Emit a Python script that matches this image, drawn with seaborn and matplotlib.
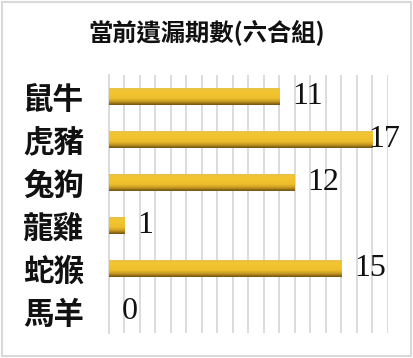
import numpy as np
import pandas as pd
import matplotlib
matplotlib.use("Agg")
import matplotlib.pyplot as plt
from matplotlib.colors import LinearSegmentedColormap
from matplotlib.patches import Rectangle
import seaborn as sns

# Data
categories = ["鼠牛", "虎豬", "兔狗", "龍雞", "蛇猴", "馬羊"]
values = [11, 17, 12, 1, 15, 0]
title_text = "當前遺漏期數(六合組)"

sns.set_theme(style="white")
plt.rcParams["font.family"] = ["Noto Sans CJK TC", "DejaVu Sans"]

W, H = 413, 358
fig = plt.figure(figsize=(W / 100, H / 100), dpi=100)
fig.patch.set_facecolor("white")

ax = fig.add_axes([109 / W, (H - 333) / H, (388 - 109) / W, (333 - 75) / H])
df = pd.DataFrame({"cat": categories, "val": values})
sns.barplot(data=df, x="val", y="cat", orient="h", color="#f0c030",
            width=0.38, ax=ax, saturation=1)

ax.set_xlim(0, 18)
ax.set_xticks(np.arange(0, 19, 1))
ax.set_xticklabels([])
ax.tick_params(axis="x", length=0)
ax.tick_params(axis="y", length=0, pad=18)
ax.xaxis.grid(True, color="#d9d9d9", linewidth=1.3)
ax.yaxis.grid(False)
ax.set_axisbelow(True)
for s in ["top", "right", "bottom"]:
    ax.spines[s].set_visible(False)
ax.spines["left"].set_color("#d9d9d9")
ax.spines["left"].set_linewidth(1.3)
ax.set_xlabel("")
ax.set_ylabel("")
for lbl in ax.get_yticklabels():
    lbl.set_fontsize(22)
    lbl.set_fontweight("bold")
    lbl.set_color("#111111")

# Vertical gold gradient on every bar (light top, dark bottom edge)
gold = LinearSegmentedColormap.from_list(
    "gold", [(0.0, "#e8c04c"), (0.15, "#f2c632"), (0.6, "#eebf2c"),
             (0.8, "#c89a22"), (1.0, "#6e5012")])
grad = np.linspace(0, 1, 64).reshape(-1, 1)
for p in list(ax.patches):
    x0, y0 = p.get_x(), p.get_y()
    w, h = p.get_width(), p.get_height()
    if w <= 0:
        continue
    p.set_visible(False)
    im = ax.imshow(grad, cmap=gold, aspect="auto",
                   extent=[x0, x0 + w, y0 + h, y0], zorder=3,
                   interpolation="bicubic")
    clip = Rectangle((x0, y0), w, h, transform=ax.transData,
                     facecolor="none", edgecolor="none")
    ax.add_patch(clip)
    im.set_clip_path(clip)
ax.set_xlim(0, 18)
ax.set_ylim(len(categories) - 0.5, -0.5)

# Value labels, kept inside the figure on the right
fig.canvas.draw()
renderer = fig.canvas.get_renderer()
for i, v in enumerate(values):
    t = ax.annotate(str(v), xy=(v, i), xytext=(9, 0),
                    textcoords="offset points", ha="left", va="center",
                    fontsize=23, family="Liberation Serif", color="#111111",
                    annotation_clip=False)
    bb = t.get_window_extent(renderer)
    if bb.x1 > 400:
        shift = (bb.x1 - 400) * 72 / 100
        t.set_position((9 - shift, 0))

fig.text(0.5, 1 - 33 / H, title_text, ha="center", va="center",
         fontsize=17.5, fontweight="bold", color="#111111")

# Light gray frame around the whole chart
fig.patches.append(Rectangle((1.5 / W, 2 / H), (W - 4) / W, (H - 4) / H,
                             transform=fig.transFigure, fill=False,
                             edgecolor="#d9d9d9", linewidth=1.5))

fig.savefig("out.png", dpi=100, facecolor="white")
